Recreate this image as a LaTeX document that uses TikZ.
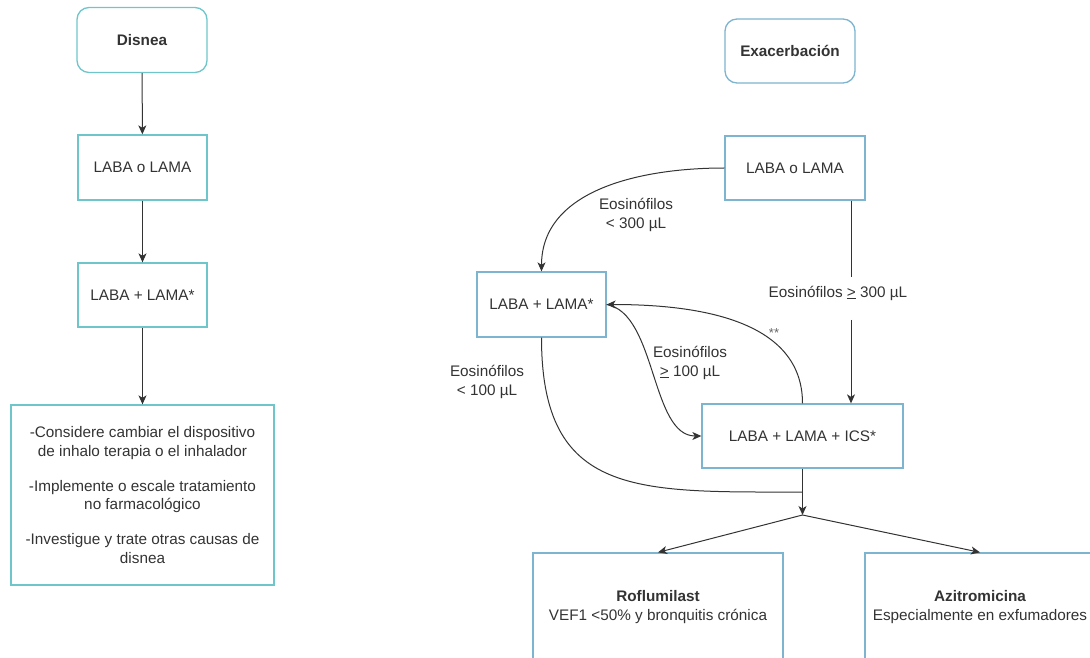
\documentclass[tikz,border=0pt]{standalone}
\usepackage{fontspec}
\setmainfont{Liberation Sans}
\usetikzlibrary{arrows.meta}
\definecolor{tealbox}{HTML}{6EC6CA}
\definecolor{bluebox}{HTML}{7DB4D0}
\definecolor{ink}{HTML}{333333}

\begin{document}
\begin{tikzpicture}[x=1pt,y=1pt,
    every node/.style={text=ink,font=\fontsize{15.3}{18.5}\selectfont,align=center}]

      \useasboundingbox (0,0) rectangle (1090,657);

      \begin{scope}[every node/.append style={draw=tealbox,line width=1.3pt,inner sep=0pt}]
        \node[rounded corners=12pt,minimum width=130pt,minimum height=65pt] (1) at (142,617) {\bfseries Disnea};
        \node[minimum width=129pt,minimum height=65pt] (2) at (142.5,489.5) {LABA o LAMA};
        \node[minimum width=129pt,minimum height=64pt] (3) at (142.5,362) {LABA + LAMA*};
        \node[minimum width=263pt,minimum height=180pt] (4) at (142.5,162)
          {-Considere cambiar el dispositivo\\de inhalo terapia o el inhalador\\[16.5pt]
           -Implemente o escale tratamiento\\no farmacológico\\[16.5pt]
           -Investigue y trate otras causas de\\disnea};
      \end{scope}

      \begin{scope}[every node/.append style={draw=bluebox,line width=1.3pt,inner sep=0pt}]
        \node[rounded corners=12pt,minimum width=130pt,minimum height=64pt] (5) at (790,606) {\bfseries Exacerbación};
        \node[minimum width=140pt,minimum height=64pt] (6) at (795,489) {LABA o LAMA};
        \node[minimum width=129pt,minimum height=65pt] (7) at (541.5,352.5) {LABA + LAMA*};
        \node[minimum width=201pt,minimum height=64pt] (8) at (802.5,221) {LABA + LAMA + ICS*};
        \node[minimum width=250pt,minimum height=108pt] (9) at (658,50)
          {{\bfseries Roflumilast}\\VEF1 <50\% y bronquitis crónica};
        \node[minimum width=230pt,minimum height=108pt] (10) at (980,50)
          {{\bfseries Azitromicina}\\Especialmente en exfumadores};
      \end{scope}

      % labels
      \node (a) at (636,442) {Eosinófilos\\< 300 µL};
      \node (b) at (838,364) {Eosinófilos \underline{>} 300 µL};
      \node (c) at (690,294) {Eosinófilos\\\underline{>} 100 µL};
      \node (d) at (487,275) {Eosinófilos\\< 100 µL};
      \node[text=ink!75,font=\fontsize{13}{14}\selectfont] (e) at (774,324) {**};

      \coordinate (g1) at (851,380);
      \coordinate (g2) at (851,337);
      \coordinate (j)  at (802.5,165);
      \coordinate (f)  at (802.5,142);

      \begin{scope}[every edge/.style={draw=ink,line width=1pt,
          -{Stealth[length=9pt,width=8pt,inset=2.5pt]}}]
        \path (1) edge (2);
        \path (2) edge (3);
        \path (3) edge (4);
        \path (6.west) edge[out=180,in=90] (7.north);
        \path (6.south -| g1) edge[-] (g1);
        \path (g2) edge (8.north -| g2);
        \path (8.north) edge[out=90,in=0] (7.east);
        \path (7.east) edge[out=-10,in=180,looseness=.8] (8.west);
        \path (7.south) edge[-,out=-90,in=180,out distance=160pt,in distance=165pt] (j);
        \path (8.south) edge (f);
        \path (f) edge (9.north);
        \path (f) edge (10.north);
      \end{scope}

    \end{tikzpicture}
\end{document}
